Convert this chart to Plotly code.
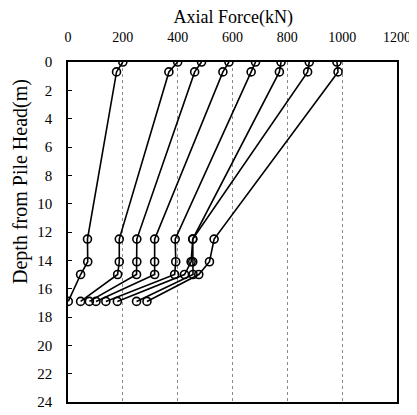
import plotly.graph_objects as go

depths = [0, 0.7, 12.5, 14.1, 15.0, 16.9]
s1 = [200, 177, 71, 72, 46, 1]
s2 = [400, 368, 187, 187, 181, 46]
s3 = [487, 462, 251, 251, 250, 78]
s4 = [587, 565, 316, 316, 316, 102]
s5 = [684, 668, 391, 393, 389, 138]
s6 = [777, 771, 455, 449, 425, 180]
s7 = [880, 874, 455, 455, 456, 250]
s8 = [981, 985, 533, 516, 477, 288]
series = [s1, s2, s3, s4, s5, s6, s7, s8]

x_ticks = [0, 200, 400, 600, 800, 1000, 1200]
y_ticks = list(range(0, 25, 2))

FONT = "Liberation Serif"

# page body has an 8px margin, so the figure is sized to fill the rest of the window
W, H = 409, 407

fig = go.Figure()
for s in series:
    fig.add_trace(go.Scatter(
        x=s, y=depths, mode="lines+markers",
        line=dict(color="black", width=1.6),
        marker=dict(symbol="circle-open", size=8, color="black", line=dict(width=1.6)),
        showlegend=False, hoverinfo="skip"))

fig.update_layout(
    width=W, height=H,
    margin=dict(l=60, r=20, t=54, b=13),
    paper_bgcolor="white", plot_bgcolor="white",
    font=dict(family=FONT, color="black", size=14),
    title=dict(text="Axial Force(kN)", x=0.551, xanchor="center", y=0.994, yanchor="top",
               pad=dict(t=0, b=0),
               font=dict(family=FONT, size=18, color="black")),
    annotations=[dict(
        text="Depth from Pile Head(m)", textangle=-90,
        xref="paper", yref="paper", x=(12 - 60) / 329, y=(394 - 174) / 340,
        xanchor="center", yanchor="middle", showarrow=False,
        font=dict(family=FONT, size=20, color="black"))],
)
fig.update_xaxes(
    side="top", range=[0, 1200], tickvals=x_ticks, ticktext=[str(v) for v in x_ticks],
    showline=True, linecolor="black", linewidth=1.5, mirror=True,
    showgrid=True, gridcolor="#8a8a8a", griddash="dot", gridwidth=1,
    ticks="", ticklabelstandoff=13, zeroline=False, automargin=False,
    tickfont=dict(family=FONT, size=14, color="black"),
)
fig.update_yaxes(
    range=[24, 0], tickvals=y_ticks, ticktext=[str(v) for v in y_ticks],
    showline=True, linecolor="black", linewidth=1.5, mirror=True,
    showgrid=False, ticks="inside", ticklen=4, tickcolor="black",
    ticklabelstandoff=11, zeroline=False, automargin=False,
    tickfont=dict(family=FONT, size=15, color="black"),
)

fig.write_html("out.html")
